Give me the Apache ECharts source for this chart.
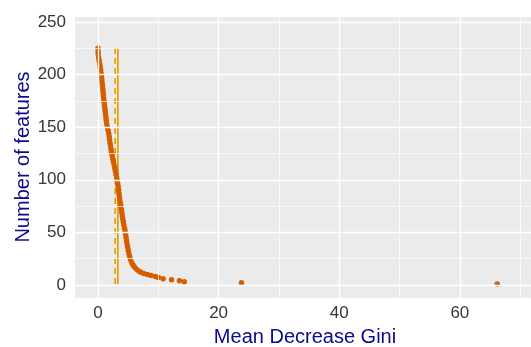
<!DOCTYPE html>
<html>
<head>
<meta charset="utf-8">
<script src="https://cdn.jsdelivr.net/npm/echarts@6/dist/echarts.min.js"></script>
<style>html,body{margin:0;padding:0;background:#fff;}#c{width:531px;height:347px;}</style>
</head>
<body>
<div id="c"></div>
<script>
// Number of features (y) vs Mean Decrease Gini threshold (x)
var featureCount = [225,222,219,216,213,210,207,204,201,198,195,192,189,186,183,180,177,174,171,168,165,162,159,156,153,150,147,144,141,138,135,132,129,126,123,120,117,114,111,108,105,102,99,96,93,90,87,84,81,78,75,72,69,66,63,60,57,54,51,48,45,42,39,36,33,30,27,24,21,19,17,15,13,12,11,10,9,8,7,6,5,4,3,2,1];
var giniValue = [0.00,0.02,0.05,0.10,0.20,0.30,0.38,0.45,0.52,0.58,0.64,0.70,0.75,0.80,0.85,0.90,0.95,1.02,1.08,1.14,1.20,1.26,1.32,1.38,1.45,1.55,1.68,1.78,1.86,1.92,2.00,2.08,2.16,2.26,2.36,2.46,2.56,2.68,2.80,2.90,3.00,3.10,3.20,3.28,3.36,3.42,3.48,3.55,3.62,3.70,3.78,3.86,3.94,4.02,4.10,4.20,4.30,4.40,4.50,4.58,4.66,4.74,4.82,4.92,5.02,5.12,5.25,5.40,5.60,5.80,6.05,6.40,6.80,7.10,7.60,8.20,8.80,9.50,10.00,10.80,12.20,13.50,14.30,23.80,66.20];
var dashedLineX = 2.85;
var solidLineX = 3.3;
var lineSpan = [1, 225];
var xTicks = [0, 20, 40, 60];
var xMinor = [10, 30, 50, 70];
var yTicks = [0, 50, 100, 150, 200, 250];
var yMinor = [25, 75, 125, 175, 225];
var xTitle = 'Mean Decrease Gini';
var yTitle = 'Number of features';

var pts = giniValue.map(function (v, i) { return [v, featureCount[i]]; });
function vline(x) { return [[x, lineSpan[0]], [x, lineSpan[1]]]; }

var gridMarks = [];
xTicks.forEach(function (v) { gridMarks.push({ xAxis: v, lineStyle: { width: 1.4 } }); });
xMinor.forEach(function (v) { gridMarks.push({ xAxis: v, lineStyle: { width: 0.7 } }); });
yTicks.forEach(function (v) { gridMarks.push({ yAxis: v, lineStyle: { width: 1.4 } }); });
yMinor.forEach(function (v) { gridMarks.push({ yAxis: v, lineStyle: { width: 0.7 } }); });

var chart = echarts.init(document.getElementById('c'), null, { renderer: 'canvas' });
chart.setOption({
  animation: false,
  grid: { left: 75, right: 0, top: 17, bottom: 49, show: true, backgroundColor: '#EBEBEB', borderWidth: 0 },
  xAxis: {
    type: 'value', min: -3.81, max: 71.8,
    axisLine: { show: false },
    splitLine: { show: false },
    axisTick: { show: true, length: 4, customValues: xTicks, lineStyle: { color: '#333', width: 1 } },
    axisLabel: { customValues: xTicks, color: '#363636', fontSize: 17, fontFamily: 'Liberation Sans', margin: 7 }
  },
  yAxis: {
    type: 'value', min: -12.4, max: 254.7,
    axisLine: { show: false },
    splitLine: { show: false },
    axisTick: { show: true, length: 6, customValues: yTicks, lineStyle: { color: '#333', width: 1 } },
    axisLabel: { customValues: yTicks, color: '#363636', fontSize: 17, fontFamily: 'Liberation Sans', margin: 9 }
  },
  series: [
    {
      type: 'line', data: [], z: 1, silent: true,
      markLine: { silent: true, symbol: 'none', label: { show: false }, animation: false,
        lineStyle: { color: '#FFFFFF', type: 'solid' }, data: gridMarks }
    },
    { type: 'line', data: vline(dashedLineX), z: 2, symbol: 'none', lineStyle: { color: '#E69F00', width: 1.7, type: [6, 4] } },
    { type: 'line', data: vline(solidLineX), z: 2, symbol: 'none', lineStyle: { color: '#E69F00', width: 1.7 } },
    { type: 'scatter', data: pts, z: 3, symbolSize: 5.5, itemStyle: { color: '#D55E00', opacity: 1 } }
  ],
  graphic: [
    { type: 'text', style: { text: xTitle, fill: '#0A0A8C', font: '20px "Liberation Sans"', textAlign: 'center', textVerticalAlign: 'middle' }, x: 305, y: 337 },
    { type: 'text', style: { text: yTitle, fill: '#0A0A8C', font: '20px "Liberation Sans"', textAlign: 'center', textVerticalAlign: 'middle' }, x: 23, y: 157, rotation: Math.PI / 2 }
  ]
});
</script>
</body>
</html>
